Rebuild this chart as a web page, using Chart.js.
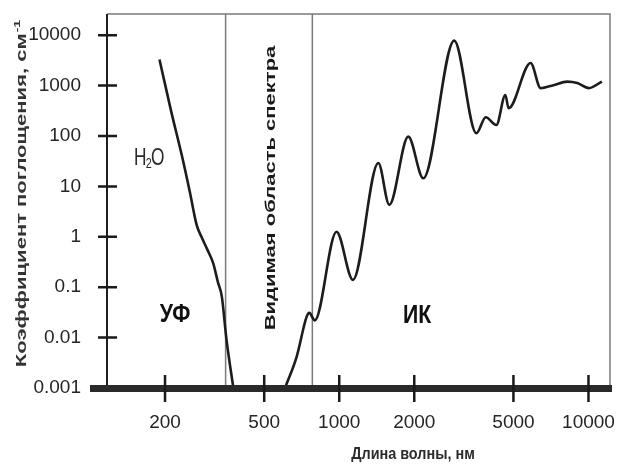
<!DOCTYPE html>
<html>
<head>
<meta charset="utf-8">
<script src="https://cdn.jsdelivr.net/npm/chart.js@4/dist/chart.umd.min.js"></script>
<style>
html,body{margin:0;padding:0;background:#fff;}
canvas{display:block;}
</style>
</head>
<body>
<canvas id="c" width="617" height="466"></canvas>
<script>
// ---- data ----
const wavelengthsUV = [190, 211, 236, 252, 268, 280, 296, 312, 326, 338, 353, 376];
const absorptionUV  = [3300, 330, 33, 7.4, 1.7, 1.0, 0.55, 0.3, 0.126, 0.065, 0.009, 0.001];

const wavelengthsIR = [606, 675, 740, 758, 798, 975, 1135, 1435, 1588, 1892, 2174, 2893, 3550, 3870, 4270, 4640, 4780, 5860, 6430, 7230, 8220, 9020, 10030, 11320];
const absorptionIR  = [0.001, 0.0042, 0.026, 0.031, 0.022, 1.26, 0.14, 29, 4.3, 97, 14.5, 7800, 113, 235, 165, 650, 355, 2800, 890, 1020, 1200, 1120, 890, 1200];

const visibleRange = [350, 780];

const xTickValues = [200, 500, 1000, 2000, 5000, 10000];
const xTickLabels = ['200', '500', '1000', '2000', '5000', '10000'];
const yTickValues = [0.001, 0.01, 0.1, 1, 10, 100, 1000, 10000];
const yTickLabels = ['0.001', '0.01', '0.1', '1', '10', '100', '1000', '10000'];

const xTitle = 'Длина волны, нм';
const yTitle = 'Коэффициент поглощения, см';
const yTitleSup = '-1';
const labelH = 'H';
const labelSub = '2';
const labelO = 'O';
const labelUV = 'УФ';
const labelIR = 'ИК';
const labelVisible = 'Видимая область спектра';

// ---- styling ----
const sans = "'Liberation Sans', Arial, sans-serif";
const textColor = '#252525';

function drawText(ctx, s, x, y, font, color, squeeze, rotated) {
  ctx.save();
  ctx.translate(x, y);
  if (rotated) { ctx.rotate(-Math.PI / 2); ctx.scale(1, squeeze); }
  else { ctx.scale(squeeze, 1); }
  ctx.font = font;
  ctx.fillStyle = color;
  ctx.textAlign = 'center';
  ctx.textBaseline = 'middle';
  ctx.fillText(s, 0, 0);
  ctx.restore();
}

const deco = {
  id: 'deco',
  beforeDatasetsDraw(chart) {
    const { ctx, chartArea: a, scales: { x } } = chart;
    ctx.save();
    ctx.strokeStyle = '#7a7a7a';
    ctx.lineWidth = 1.5;
    ctx.beginPath();
    ctx.moveTo(a.left, a.top); ctx.lineTo(a.right, a.top); ctx.lineTo(a.right, a.bottom);
    visibleRange.forEach(v => {
      const px = x.getPixelForValue(v);
      ctx.moveTo(px, a.top); ctx.lineTo(px, a.bottom);
    });
    ctx.stroke();
    ctx.restore();
  },
  afterDatasetsDraw(chart) {
    const { ctx, chartArea: a, scales: { x, y } } = chart;
    ctx.save();
    ctx.strokeStyle = '#1e1e1e';
    ctx.lineWidth = 2;
    ctx.beginPath();
    ctx.moveTo(a.left, a.top); ctx.lineTo(a.left, a.bottom);
    ctx.stroke();
    ctx.fillStyle = '#2a2a2a';
    ctx.fillRect(a.left - 17, a.bottom - 3, a.right - a.left + 19, 7);
    ctx.strokeStyle = '#1a1a1a';
    ctx.lineWidth = 2.5;
    ctx.beginPath();
    yTickValues.forEach(v => {
      if (v === yTickValues[0]) return;
      const py = y.getPixelForValue(v);
      ctx.moveTo(a.left - 9, py); ctx.lineTo(a.left + 10, py);
    });
    xTickValues.forEach(v => {
      const px = x.getPixelForValue(v);
      ctx.moveTo(px, a.bottom - 13); ctx.lineTo(px, a.bottom + 14);
    });
    ctx.stroke();
    ctx.restore();

    drawText(ctx, labelUV, 175, 315, "bold 25px " + sans, '#111', 0.85, false);
    drawText(ctx, labelIR, 417, 316, "bold 25px " + sans, '#111', 0.85, false);
    drawText(ctx, labelVisible, 271, 188, "bold 22px " + sans, '#1a1a1a', 0.66, true);

    // H2O
    ctx.save();
    ctx.translate(134, 158);
    ctx.scale(0.72, 1);
    ctx.fillStyle = '#2a2a2a';
    ctx.textBaseline = 'middle';
    ctx.textAlign = 'left';
    ctx.font = "24px " + sans;
    ctx.fillText(labelH, 0, 0);
    let w = ctx.measureText(labelH).width;
    ctx.font = "15px " + sans;
    ctx.fillText(labelSub, w - 1, 6);
    w += ctx.measureText(labelSub).width - 2;
    ctx.font = "24px " + sans;
    ctx.fillText(labelO, w, 0);
    ctx.restore();

    drawText(ctx, xTitle, 413, 455, "bold 16px " + sans, '#2b2b2b', 0.9, false);

    ctx.save();
    ctx.translate(22, 194);
    ctx.rotate(-Math.PI / 2);
    ctx.scale(1, 0.7);
    ctx.fillStyle = '#333';
    ctx.textBaseline = 'middle';
    ctx.textAlign = 'left';
    ctx.font = "bold 22px " + sans;
    const mw = ctx.measureText(yTitle).width;
    ctx.font = "bold 14px " + sans;
    const sw = ctx.measureText(yTitleSup).width;
    const start = -(mw + sw) / 2;
    ctx.font = "bold 22px " + sans;
    ctx.fillText(yTitle, start, 0);
    ctx.font = "bold 14px " + sans;
    ctx.fillText(yTitleSup, start + mw + 1, -7);
    ctx.restore();
  }
};

const lineStyle = {
  borderColor: '#1c1c1c',
  borderWidth: 2.6,
  pointRadius: 0,
  fill: false,
  cubicInterpolationMode: 'monotone'
};

function noPad(s) { s.paddingLeft = 0; s.paddingRight = 0; s.paddingTop = 0; s.paddingBottom = 0; }

new Chart(document.getElementById('c'), {
  type: 'line',
  data: {
    datasets: [
      Object.assign({ label: 'UV', data: wavelengthsUV.map((v, i) => ({ x: v, y: absorptionUV[i] })) }, lineStyle),
      Object.assign({ label: 'IR', data: wavelengthsIR.map((v, i) => ({ x: v, y: absorptionIR[i] })) }, lineStyle)
    ]
  },
  options: {
    responsive: false,
    animation: false,
    devicePixelRatio: 1,
    layout: { padding: { left: 0, top: 14, right: 7, bottom: 0 } },
    plugins: { legend: { display: false }, tooltip: { enabled: false } },
    scales: {
      x: {
        type: 'logarithmic',
        min: 117, max: 12200,
        grid: { display: false },
        border: { display: false },
        afterBuildTicks: s => { s.ticks = xTickValues.map(v => ({ value: v })); },
        afterFit: s => { s.height = 78; noPad(s); },
        ticks: {
          autoSkip: false, maxRotation: 0, padding: 15,
          color: textColor,
          font: { family: sans, size: 19 },
          callback: (v, i) => xTickLabels[i]
        }
      },
      y: {
        type: 'logarithmic',
        min: 0.001, max: 26300,
        grid: { display: false },
        border: { display: false },
        afterBuildTicks: s => { s.ticks = yTickValues.map(v => ({ value: v })); },
        afterFit: s => { s.width = 107; noPad(s); },
        ticks: {
          autoSkip: false, padding: 18,
          color: textColor,
          font: { family: sans, size: 19 },
          callback: (v, i) => yTickLabels[i]
        }
      }
    }
  },
  plugins: [deco]
});
</script>
</body>
</html>
